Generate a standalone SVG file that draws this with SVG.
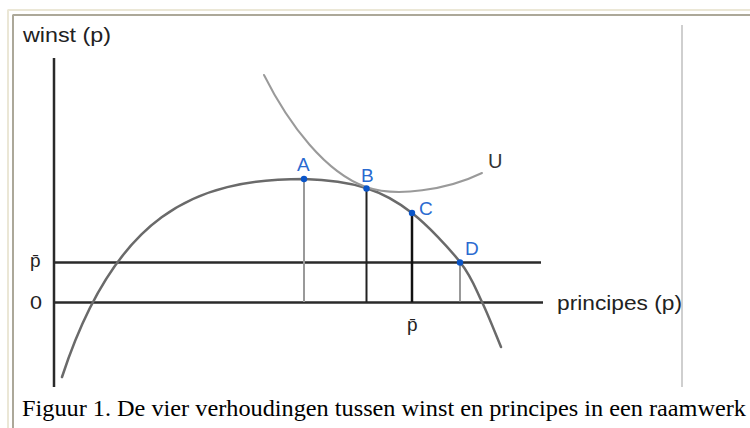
<svg xmlns="http://www.w3.org/2000/svg" width="750" height="428" viewBox="0 0 750 428">
<style>
.sans{font-family:"Liberation Sans",Arial,sans-serif}
.lbl{font-family:"Liberation Sans",Arial,sans-serif;font-size:19px;fill:#2a6ad0}
.dot{fill:#0a55c8}
.axis{stroke:#2a2a2a;stroke-width:2.5;fill:none}
</style>
<rect width="750" height="428" fill="#fff"/>
<g id="frame">
<line x1="7.5" y1="10" x2="750" y2="10" stroke="#ebe7d6" stroke-width="2"/>
<line x1="8" y1="10" x2="8" y2="428" stroke="#ebe7d6" stroke-width="2"/>
<line x1="12.5" y1="15" x2="750" y2="15" stroke="#aca899" stroke-width="2"/>
<line x1="13" y1="15" x2="13" y2="428" stroke="#aca899" stroke-width="2"/>
<line x1="682" y1="25" x2="682" y2="387" stroke="#cfcfcf" stroke-width="2"/>
</g>
<g id="axes">
<line class="axis" x1="54" y1="58" x2="54" y2="387"/>
<line class="axis" x1="54" y1="302.5" x2="543" y2="302.5"/>
<line class="axis" x1="54" y1="262.5" x2="541" y2="262.5"/>
<text class="sans" x="23" y="42" font-size="20" textLength="88" lengthAdjust="spacingAndGlyphs" fill="#222">winst (p)</text>
<text class="sans" x="557" y="310" font-size="21" textLength="125" lengthAdjust="spacingAndGlyphs" fill="#222">principes (p)</text>
<text class="sans" x="30" y="267" font-size="19" fill="#222">p̄</text>
<text class="sans" x="30" y="309" font-size="18" textLength="12" lengthAdjust="spacingAndGlyphs" fill="#222">0</text>
<text class="sans" x="407" y="331" font-size="19" fill="#222">p̄</text>
</g>
<g id="connectors">
<line x1="304" y1="179" x2="304" y2="302" stroke="#999" stroke-width="2"/>
<line x1="366.5" y1="188" x2="366.5" y2="302" stroke="#222" stroke-width="2"/>
<line x1="412" y1="213" x2="412" y2="302" stroke="#111" stroke-width="2.5"/>
<line x1="460" y1="262" x2="460" y2="302" stroke="#777" stroke-width="1.5"/>
</g>
<g id="curves">
<path id="profit" d="M62,377 C115,215 194,179 304,179 C323.3,179.5 348,182.3 366,188 C384,193.7 396.3,200.7 412,213 C427.7,225.3 448.3,247.2 460,262 C471.7,276.8 475.2,287.8 482,302 C488.8,316.2 497.8,339.5 501,347" fill="none" stroke="#6a6a6a" stroke-width="2.5" stroke-linecap="round"/>
<path id="U" d="M264,75 C289,125 326,173 366,187 C396,197.5 447,190 482,173" fill="none" stroke="#9a9a9a" stroke-width="2" stroke-linecap="round"/>
<text class="sans" x="488" y="168" font-size="20" fill="#333">U</text>
</g>
<g id="A"><circle class="dot" cx="304" cy="179" r="3.2"/><text class="lbl" x="297" y="171">A</text></g>
<g id="B"><circle class="dot" cx="366.5" cy="188.5" r="3.2"/><text class="lbl" x="361" y="182">B</text></g>
<g id="C"><circle class="dot" cx="412" cy="213" r="3.2"/><text class="lbl" x="419" y="215">C</text></g>
<g id="D"><circle class="dot" cx="460" cy="262.5" r="3.2"/><text class="lbl" x="465" y="255">D</text></g>
<g id="caption">
<text x="22" y="416" font-family="'Liberation Serif','Times New Roman',serif" font-size="24" textLength="724" lengthAdjust="spacingAndGlyphs" fill="#000">Figuur 1. De vier verhoudingen tussen winst en principes in een raamwerk</text>
</g>
</svg>
